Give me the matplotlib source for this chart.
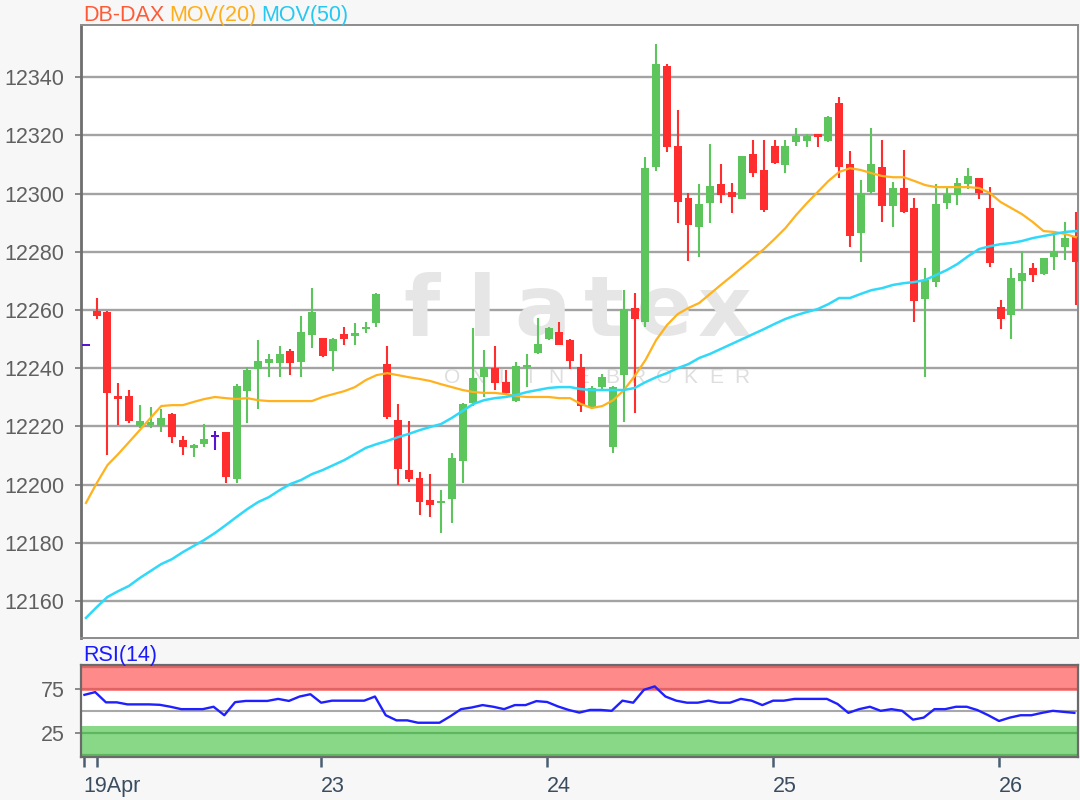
import matplotlib
matplotlib.use("Agg")
import matplotlib.pyplot as plt
import numpy as np

plt.rcParams['font.family'] = ['Liberation Sans', 'DejaVu Sans']

# ---------------- data ----------------
opens = [12248, 12259.5, 12259.3, 12230.5, 12230.4, 12220.0, 12220.5, 12220.0, 12224.2, 12215.3,
         12212.5, 12214.0, 12216.7, 12218.0, 12202.0, 12232.0, 12239.7, 12241.7, 12241.7, 12246.0,
         12242.0, 12251.4, 12250.3, 12246.0, 12251.7, 12251.0, 12253.4, 12255.5, 12241.4, 12222.2,
         12205.0, 12202.3, 12194.7, 12193.6, 12195.0, 12208.0, 12228.0, 12237.0, 12240.0, 12235.2,
         12228.7, 12240.4, 12245.2, 12250.0, 12252.4, 12249.7, 12240.4, 12226.3, 12233.5, 12213.0,
         12237.6, 12260.6, 12255.8, 12309.0, 12343.8, 12316.3, 12298.4, 12288.5, 12296.7, 12303.2,
         12300.5, 12298.1, 12313.6, 12308.0, 12316.3, 12309.8, 12317.7, 12318.0, 12320.4, 12318.0,
         12331.0, 12310.0, 12286.4, 12300.5, 12309.0, 12295.7, 12302.0, 12295.0, 12263.7, 12269.6,
         12296.7, 12299.5, 12303.2, 12305.3, 12295.0, 12261.0, 12258.2, 12270.0, 12274.4, 12272.3,
         12278.2, 12281.6, 12285.0]
highs = [12248, 12264.0, 12259.5, 12235.0, 12232.5, 12227.5, 12226.5, 12226.0, 12224.5, 12216.7,
         12214.0, 12220.8, 12218.5, 12218.0, 12234.5, 12240.4, 12249.7, 12245.0, 12247.6, 12246.5,
         12258.0, 12267.5, 12250.5, 12250.2, 12254.0, 12255.5, 12256.0, 12265.7, 12247.6, 12227.7,
         12222.0, 12204.3, 12203.6, 12198.0, 12210.8, 12228.0, 12253.8, 12246.2, 12247.6, 12239.3,
         12242.0, 12244.8, 12257.2, 12254.0, 12255.8, 12250.0, 12244.8, 12234.0, 12238.0, 12234.0,
         12266.8, 12265.8, 12312.5, 12351.3, 12344.5, 12328.7, 12300.2, 12303.2, 12317.0, 12310.0,
         12303.6, 12313.0, 12318.4, 12318.4, 12318.4, 12318.4, 12322.5, 12320.4, 12320.6, 12326.5,
         12333.0, 12314.6, 12304.6, 12322.5, 12318.4, 12304.0, 12315.0, 12298.4, 12274.4, 12303.2,
         12302.2, 12305.3, 12308.7, 12305.5, 12302.2, 12263.4, 12274.4, 12280.2, 12276.0, 12278.0,
         12285.7, 12290.2, 12293.6]
lows = [12248, 12257.0, 12210.0, 12220.5, 12221.0, 12219.5, 12219.5, 12218.0, 12214.3, 12210.0,
        12209.5, 12213.0, 12212.0, 12200.5, 12200.5, 12221.0, 12226.0, 12237.0, 12237.0, 12237.6,
        12237.0, 12247.0, 12243.8, 12239.0, 12248.0, 12248.0, 12252.0, 12254.0, 12222.5, 12200.0,
        12201.0, 12189.5, 12188.8, 12183.4, 12186.8, 12200.5, 12227.0, 12230.0, 12232.5, 12230.8,
        12228.4, 12233.5, 12245.0, 12249.8, 12247.8, 12239.7, 12224.9, 12226.0, 12232.5, 12210.8,
        12221.5, 12224.6, 12254.0, 12307.7, 12314.2, 12289.8, 12276.8, 12278.2, 12289.8, 12296.7,
        12293.3, 12298.0, 12305.6, 12293.6, 12310.0, 12307.0, 12316.3, 12316.0, 12316.0, 12317.8,
        12305.3, 12281.6, 12276.4, 12300.0, 12290.2, 12288.5, 12293.3, 12255.8, 12237.0, 12267.9,
        12294.7, 12296.0, 12301.5, 12298.0, 12274.7, 12253.4, 12250.0, 12260.3, 12269.6, 12272.0,
        12273.7, 12277.0, 12261.7]
closes = [12248, 12257.8, 12231.5, 12229.5, 12221.8, 12222.0, 12221.5, 12223.0, 12216.3, 12213.0,
          12213.5, 12215.6, 12216.7, 12202.6, 12234.0, 12239.3, 12242.4, 12243.0, 12244.8, 12241.7,
          12252.4, 12259.3, 12244.2, 12250.0, 12250.0, 12252.0, 12254.2, 12265.5, 12223.2, 12205.3,
          12202.0, 12194.0, 12193.0, 12194.3, 12209.0, 12227.7, 12236.6, 12240.4, 12235.0, 12231.4,
          12240.7, 12241.0, 12248.3, 12253.8, 12248.0, 12242.4, 12227.0, 12233.2, 12237.0, 12233.7,
          12260.3, 12257.0, 12308.7, 12344.5, 12316.0, 12297.0, 12289.2, 12296.4, 12302.6, 12299.5,
          12298.8, 12312.9, 12307.0, 12294.3, 12310.5, 12316.3, 12319.7, 12319.7, 12319.4, 12326.3,
          12309.0, 12285.4, 12300.2, 12310.0, 12295.7, 12302.0, 12293.6, 12263.0, 12270.3, 12296.4,
          12299.8, 12303.6, 12306.0, 12300.2, 12276.1, 12257.0, 12271.0, 12272.7, 12272.0, 12277.8,
          12280.2, 12284.7, 12276.4]
mov20 = [12193.7, 12200.5, 12206.7, 12210.5, 12214.6, 12218.7, 12222.9, 12227.0, 12227.3, 12227.3,
         12228.4, 12229.4, 12230.1, 12229.7, 12229.4, 12229.7, 12229.0, 12228.7, 12228.7, 12228.7,
         12228.7, 12228.7, 12230.1, 12231.1, 12232.1, 12233.5, 12235.9, 12237.6, 12238.3, 12237.6,
         12236.9, 12236.3, 12235.6, 12234.5, 12233.5, 12232.5, 12231.8, 12231.5, 12231.5, 12231.1,
         12230.4, 12230.1, 12230.1, 12230.1, 12229.7, 12229.7, 12227.7, 12226.3, 12227.0, 12229.0,
         12232.5, 12237.3, 12242.8, 12249.7, 12254.8, 12258.6, 12260.7, 12262.4, 12265.5, 12268.6,
         12271.6, 12274.7, 12277.8, 12280.9, 12284.4, 12288.1, 12292.6, 12296.7, 12300.5, 12304.3,
         12307.4, 12308.7, 12308.1, 12307.0, 12306.0, 12305.6, 12305.6, 12304.3, 12302.9, 12302.2,
         12302.2, 12302.2, 12302.2, 12301.9, 12300.2, 12297.1, 12295.0, 12292.9, 12290.2, 12287.1,
         12286.8, 12286.1, 12285.0]
mov50 = [12154.2, 12157.9, 12161.4, 12163.4, 12165.2, 12167.9, 12170.3, 12172.7, 12174.4, 12176.8,
         12178.9, 12181.0, 12183.4, 12186.1, 12188.9, 12191.6, 12194.0, 12195.7, 12198.1, 12200.2,
         12201.6, 12203.6, 12205.0, 12206.7, 12208.4, 12210.5, 12212.6, 12213.9, 12215.0, 12216.3,
         12217.4, 12218.7, 12219.8, 12220.8, 12222.9, 12225.3, 12227.7, 12229.0, 12229.7, 12230.1,
         12230.8, 12231.8, 12232.5, 12233.2, 12233.5, 12233.5, 12232.8, 12232.5, 12232.5, 12232.5,
         12232.5, 12233.2, 12235.2, 12236.9, 12238.3, 12240.0, 12241.4, 12243.5, 12244.9, 12246.6,
         12248.3, 12250.0, 12251.7, 12253.4, 12255.2, 12256.9, 12258.2, 12259.3, 12260.3, 12262.0,
         12264.1, 12264.1, 12265.5, 12266.8, 12267.5, 12268.6, 12269.2, 12269.6, 12270.3, 12272.0,
         12273.7, 12275.8, 12278.5, 12280.9, 12281.9, 12282.6, 12283.0, 12283.7, 12284.7, 12285.4,
         12286.1, 12286.8, 12287.1]
rsi14 = [68.1, 71.2, 59.6, 59.6, 57.3, 57.3, 57.3, 56.8, 54.6, 51.9,
         51.9, 51.9, 54.6, 45.0, 59.8, 61.2, 61.2, 61.2, 63.5, 61.2,
         66.2, 68.8, 59.2, 61.5, 61.5, 61.5, 61.5, 66.2, 45.0, 39.2,
         39.2, 36.5, 36.5, 36.5, 43.8, 51.9, 53.8, 56.5, 54.6, 51.9,
         56.5, 56.5, 61.0, 60.0, 55.0, 51.0, 48.0, 51.0, 51.0, 50.0,
         61.5, 59.2, 73.8, 77.7, 66.2, 61.5, 59.2, 59.2, 61.5, 59.2,
         59.2, 63.5, 61.5, 56.5, 61.5, 61.5, 63.5, 63.5, 63.5, 63.5,
         57.7, 47.7, 51.9, 54.6, 50.0, 51.9, 50.0, 40.0, 42.3, 51.9,
         51.9, 54.6, 54.6, 50.8, 45.0, 38.5, 42.3, 45.0, 45.0, 47.7,
         50.0, 48.8, 47.7]
price_ticks = [12160, 12180, 12200, 12220, 12240, 12260, 12280, 12300, 12320, 12340]
rsi_ticks = [25, 75]
date_tick_pos = [-0.2, 1.0, 21.85, 42.85, 63.85, 84.85]
date_tick_labels = ["19Apr", "", "23", "24", "25", "26"]
watermark_word = "flatex"
watermark_sub = "ONLINE BROKER"

# ---------------- figure ----------------
W, H = 1080, 800
fig = plt.figure(figsize=(W / 100, H / 100), dpi=100)
fig.patch.set_facecolor('#f7f7f7')

def rect(l, t, r, b):
    return [l / W, 1 - b / H, (r - l) / W, (b - t) / H]

ax = fig.add_axes(rect(81, 25, 1078, 638))
rax = fig.add_axes(rect(81, 665, 1078, 757))

o = np.array(opens); h = np.array(highs); l = np.array(lows); c = np.array(closes)
n = len(o)
xi = np.arange(n)
XL = (-0.46, 92.2)

GREEN = '#5cc65c'
RED = '#ff2d2d'
PURPLE = '#5a14d2'
cols = np.where(c > o, GREEN, np.where(c < o, RED, PURPLE))

ax.vlines(xi, l, h, colors=cols, lw=1.5, zorder=3)
body_bot = np.minimum(o, c)
body_h = np.abs(c - o)
doji = body_h < 0.05
body_bot = np.where(doji, body_bot - 0.35, body_bot)
body_h = np.where(doji, 0.7, body_h)
ax.bar(xi, body_h, bottom=body_bot, width=0.74, color=cols, zorder=4, linewidth=0)

ax.plot(xi, mov20, color='#ffb21e', lw=1.6, zorder=5)
ax.plot(xi, mov50, color='#30d8fa', lw=1.8, zorder=5)

ax.set_xlim(*XL)
ax.set_ylim(12147.3, 12357.9)
ax.set_yticks(price_ticks)
ax.set_yticklabels([str(v) for v in price_ticks])
ax.yaxis.grid(True, color='#a3a3a3', lw=1.7)
ax.set_axisbelow(True)
ax.set_xticks([])
ax.tick_params(axis='y', direction='out', length=4, width=1.2, color='#777777',
               labelsize=15.5, labelcolor='#606060', pad=8)
ax.set_facecolor('white')
for s in ax.spines.values():
    s.set_color('#8c8c8c'); s.set_linewidth(1.4)
ax.spines['left'].set_color('#6e6e6e'); ax.spines['left'].set_linewidth(2.0)

# watermark: letters spread like the reference logo
for k, ch in enumerate(watermark_word):
    ax.text((422 + 60.5 * k) / W, 1 - 312 / H, ch, transform=fig.transFigure, fontsize=60,
            color='#e6e6e6', ha='center', va='center', zorder=1, family=['DejaVu Sans'],
            fontweight='bold')
px = 452
for ch in watermark_sub:
    if ch != ' ':
        ax.text(px / W, 1 - 378 / H, ch, transform=fig.transFigure, fontsize=15,
                color='#dedede', ha='center', va='center', zorder=1)
        px += 26
    else:
        px += 4

# RSI panel
rax.set_facecolor('white')
rax.set_xlim(*XL)
rax.set_ylim(-2.3, 101.9)
rax.axhspan(72.4, 101.9, color='#ff8a8a', lw=0, zorder=0)
rax.axhspan(-2.3, 32.6, color='#88d888', lw=0, zorder=0)
for yv in (100, 75):
    rax.axhline(yv, color='#e06464', lw=1.6, zorder=1)
for yv in (25, 0):
    rax.axhline(yv, color='#5fb65f', lw=1.6, zorder=1)
rax.axhline(50, color='#a8a8a8', lw=1.5, zorder=1)
rax.plot(xi - 0.14, rsi14, color='#1f1fff', lw=1.7, zorder=3)
rax.set_yticks(rsi_ticks)
rax.set_yticklabels([str(v) for v in rsi_ticks])
rax.set_xticks(date_tick_pos)
rax.set_xticklabels(date_tick_labels)
for lab in rax.get_xticklabels():
    lab.set_ha('left')
rax.tick_params(axis='y', direction='out', length=4, width=1.2, color='#777777',
                labelsize=15.5, labelcolor='#606060', pad=8)
rax.tick_params(axis='x', direction='out', length=7, width=1.8, color='#4a5e72',
                labelsize=15.5, labelcolor='#3a4d60', pad=7)
for s in rax.spines.values():
    s.set_color('#6a6a6a'); s.set_linewidth(1.6)

# header texts
fig.canvas.draw()
r = fig.canvas.get_renderer()
xpos = 83
for s, col in [("DB-DAX", '#ff5a36'), ("MOV(20)", '#ffae1a'), ("MOV(50)", '#24c8f2')]:
    t = fig.text(xpos / W, 1 - 21 / H, s, color=col, fontsize=15.5, ha='left', va='baseline')
    bb = t.get_window_extent(r)
    xpos = bb.x1 + 5
fig.text(83 / W, 1 - 661 / H, "RSI(14)", color='#1a1aff', fontsize=15.5, ha='left', va='baseline')

fig.savefig('out.png', dpi=100, facecolor=fig.get_facecolor())
